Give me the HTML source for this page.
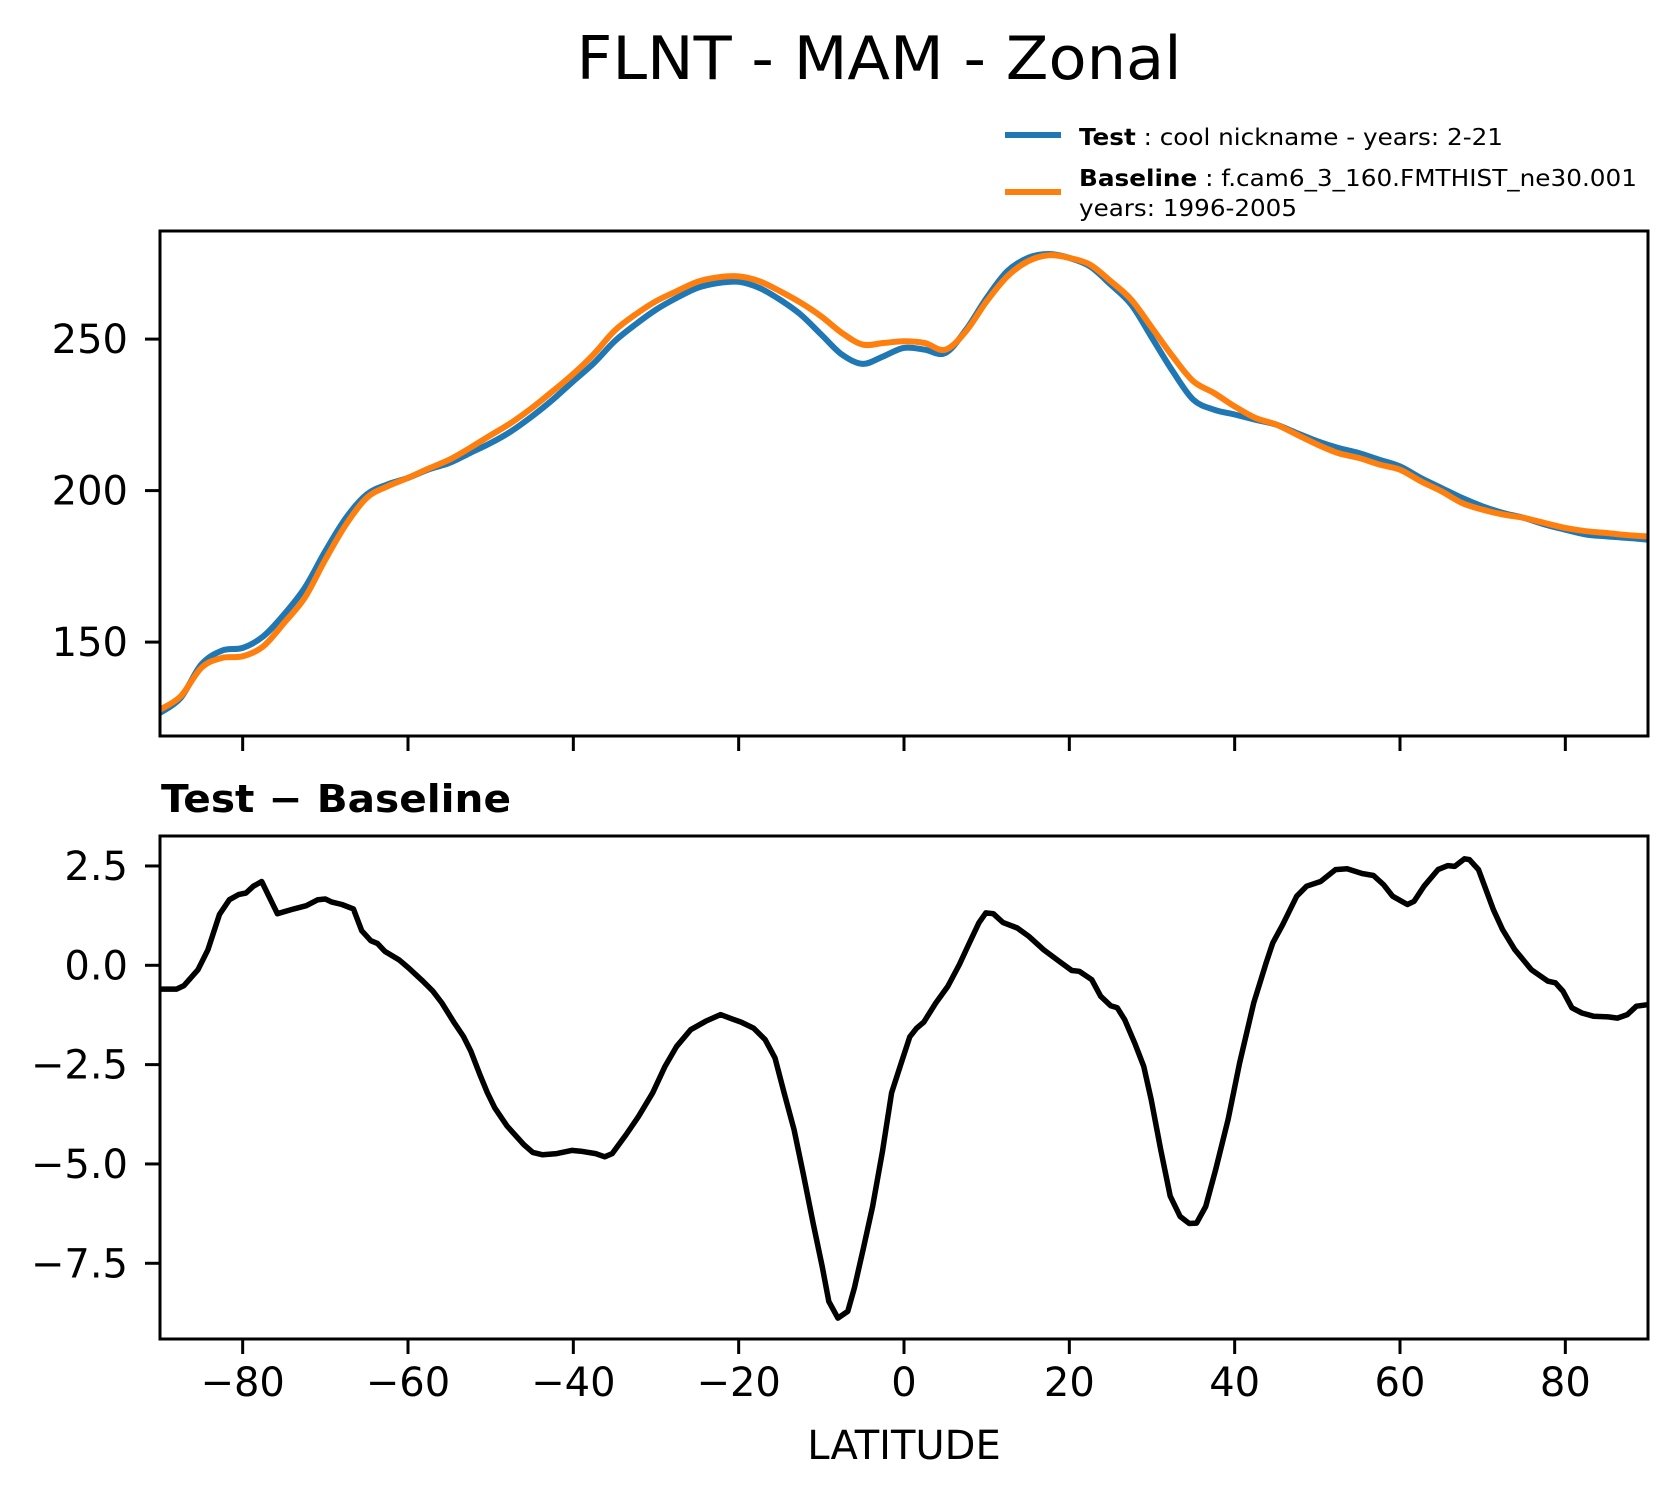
<!DOCTYPE html>
<html><head><meta charset="utf-8"><style>
html,body{margin:0;padding:0;background:#fff;}
svg{display:block;font-family:"DejaVu Sans","Liberation Sans",sans-serif;}
</style></head>
<body>
<svg id="chart" width="1678" height="1496" viewBox="0 0 1678 1496" xmlns="http://www.w3.org/2000/svg">
<rect width="1678" height="1496" fill="#fff"/>
<text x="879" y="79" font-size="60" text-anchor="middle" textLength="605" lengthAdjust="spacingAndGlyphs">FLNT - MAM - Zonal</text>
<g>
<line x1="1005" y1="135" x2="1061" y2="135" stroke="#1f77b4" stroke-width="6"/>
<text x="1079" y="145" font-size="23" textLength="424" lengthAdjust="spacingAndGlyphs"><tspan font-weight="bold">Test</tspan> : cool nickname - years: 2-21</text>
<line x1="1005" y1="192" x2="1061" y2="192" stroke="#ff7f0e" stroke-width="6"/>
<text x="1079" y="186" font-size="23" textLength="558" lengthAdjust="spacingAndGlyphs"><tspan font-weight="bold">Baseline</tspan> : f.cam6_3_160.FMTHIST_ne30.001</text>
<text x="1079" y="216" font-size="23" textLength="218" lengthAdjust="spacingAndGlyphs">years: 1996-2005</text>
</g>
<text x="161" y="812" font-size="38" font-weight="bold" textLength="350" lengthAdjust="spacingAndGlyphs">Test − Baseline</text>
<text x="904" y="1459" font-size="40" text-anchor="middle">LATITUDE</text>
<g id="top"></g>
<g id="bot"></g>
</svg>
<script>
const topLat = [-90,-87.5,-85,-82.5,-80,-77.5,-75,-72.5,-70,-67.5,-65,-62.5,-60,-57.5,-55,-52.5,-50,-47.5,-45,-42.5,-40,-37.5,-35,-32.5,-30,-27.5,-25,-22.5,-20,-17.5,-15,-12.5,-10,-7.5,-5,-2.5,0,2.5,5,7.5,10,12.5,15,17.5,20,22.5,25,27.5,30,32.5,35,37.5,40,42.5,45,47.5,50,52.5,55,57.5,60,62.5,65,67.5,70,72.5,75,77.5,80,82.5,85,87.5,90];
const testVals = [126.6,131.6,142.6,147.2,148.1,151.9,159.1,167.9,180,191,198.7,202,204.2,207,209.1,212.4,215.7,219.6,224.5,230,236.1,242.1,249.3,254.8,259.7,263.6,266.9,268.5,268.9,266.9,263,258.1,251.5,244.9,241.8,244.3,247.1,246.5,245.4,253.1,263.6,272.4,276.8,278.1,276.8,274,268,261.4,250.4,239.4,230,226.7,225.1,223.4,221.8,219,216.3,214.1,212.4,210.2,208,204.2,200.9,197.6,194.8,192.6,191,188.8,187.1,185.5,184.9,184.4,183.8];
const baseVals = [127.7,132.1,141.5,144.8,145.3,148.6,156.3,164.6,177.2,188.8,197.6,201.4,204.2,207.3,210.2,214.1,218.3,222.4,227.3,232.8,238.5,245.1,252.8,258.1,262.5,265.8,268.9,270.4,270.7,269.1,265.8,262,257.5,252,248.2,248.7,249.3,248.7,246.5,252.6,262.5,270.7,275.7,277.7,276.8,274.6,269.1,263,253.7,244.3,236.1,232.2,227.8,224,221.8,218.5,215.2,212.4,210.8,208.6,206.9,203.1,199.8,195.9,193.7,192.1,191,189.3,187.7,186.6,186,185.3,184.9];
const diffLat = [-90,-88,-87.1,-85.4,-84.2,-82.8,-81.6,-80.5,-79.6,-78.7,-77.7,-75.8,-73.8,-72.3,-70.9,-70,-69.2,-68,-66.6,-65.6,-64.5,-63.7,-62.8,-61.1,-59.9,-58.2,-57,-55.9,-54.4,-53.3,-52.4,-51.3,-50.4,-49.5,-48,-46,-44.9,-43.7,-42,-40.2,-39.1,-37.3,-36.2,-35.3,-33.6,-32.1,-30.4,-28.9,-27.5,-25.8,-24,-22.2,-20.8,-19.7,-18.2,-16.8,-15.6,-14.5,-13.3,-12.2,-11,-9.9,-9.1,-8,-6.8,-6,-4.9,-3.8,-2.6,-1.5,-0.4,0.7,1.54,2.4,3.85,5.3,6.7,7.9,9.06,9.9,10.8,11.95,13.7,15.1,16.9,18.9,20.3,21.2,22.7,23.8,25,25.8,26.7,27.9,29,29.9,31.05,32.2,33.4,34.5,35.4,36.5,37.7,39.2,40.6,42.3,43.8,44.6,45.8,47.5,48.7,50.4,52.2,53.6,55.4,56.8,58,59.1,60.9,61.7,62.9,64.6,65.8,66.6,67.8,68.4,69.5,71.3,72.4,73.9,75.9,77.9,78.8,79.7,80.8,82,83.4,85.2,86.3,87.5,88.6,90];
const diffVals = [-0.6,-0.6,-0.51,-0.11,0.39,1.28,1.65,1.78,1.82,1.99,2.11,1.3,1.42,1.5,1.65,1.67,1.59,1.53,1.42,0.87,0.62,0.55,0.35,0.14,-0.07,-0.4,-0.65,-0.95,-1.45,-1.79,-2.16,-2.75,-3.21,-3.59,-4.05,-4.51,-4.71,-4.77,-4.74,-4.66,-4.68,-4.74,-4.82,-4.74,-4.26,-3.8,-3.21,-2.54,-2.04,-1.62,-1.41,-1.24,-1.35,-1.43,-1.58,-1.87,-2.33,-3.21,-4.14,-5.23,-6.49,-7.58,-8.46,-8.88,-8.71,-8.12,-7.11,-6.07,-4.68,-3.21,-2.5,-1.8,-1.58,-1.43,-0.95,-0.53,0.02,0.56,1.07,1.32,1.3,1.08,0.94,0.73,0.39,0.08,-0.13,-0.15,-0.36,-0.78,-1.02,-1.07,-1.37,-1.95,-2.54,-3.38,-4.64,-5.81,-6.32,-6.5,-6.49,-6.07,-5.14,-3.88,-2.46,-0.95,0.06,0.56,1.02,1.74,1.99,2.11,2.41,2.43,2.31,2.26,2.03,1.74,1.53,1.61,1.99,2.41,2.51,2.49,2.68,2.66,2.41,1.4,0.9,0.39,-0.11,-0.4,-0.44,-0.65,-1.07,-1.2,-1.28,-1.3,-1.33,-1.24,-1.03,-0.99];
const xTicks = [-80,-60,-40,-20,0,20,40,60,80];
const xTickLabels = ["−80","−60","−40","−20","0","20","40","60","80"];
const topYTicks = [150,200,250];
const topYTickLabels = ["150","200","250"];
const botYTicks = [2.5,0,-2.5,-5,-7.5];
const botYTickLabels = ["2.5","0.0","−2.5","−5.0","−7.5"];

const NS = "http://www.w3.org/2000/svg";
const L = 160, R = 1648;
const xs = v => L + (v + 90) / 180 * (R - L);
const topY = v => 339.1 + (250 - v) * 3.03;
const botY = v => 965.3 - v * 39.73;

function mk(tag, attrs, parent) {
  const e = document.createElementNS(NS, tag);
  for (const k in attrs) e.setAttribute(k, attrs[k]);
  parent.appendChild(e);
  return e;
}
function panel(g, y0, y1, yTicks, yLabels, yf, showXLabels, prefix) {
  const clipId = prefix + "-clip";
  const defs = mk("defs", {}, g);
  const cp = mk("clipPath", {id: clipId}, defs);
  mk("rect", {x: L, y: y0, width: R - L, height: y1 - y0}, cp);
  const lines = mk("g", {"clip-path": "url(#" + clipId + ")"}, g);
  
  
  xTicks.forEach((t, i) => {
    const tk = mk("line", {x1: xs(t), x2: xs(t), y1: y1, y2: y1 + 15, stroke: "#000", "stroke-width": 3}, g);
    
    
    if (showXLabels) {
      const tx = mk("text", {x: xs(t), y: y1 + 57, "font-size": 40, "text-anchor": "middle"}, g);
      tx.textContent = xTickLabels[i];
      
      
    }
  });
  yTicks.forEach((t, i) => {
    const tk = mk("line", {x1: L - 15, x2: L, y1: yf(t), y2: yf(t), stroke: "#000", "stroke-width": 3}, g);
    
    
    const tx = mk("text", {x: 128, y: yf(t) + 14, "font-size": 40, "text-anchor": "end"}, g);
    tx.textContent = yLabels[i];
    
    
  });
  return lines;
}
function path(parent, lat, vals, yf, color, w, name, smooth) {
  const P = lat.map((v, i) => [xs(v), yf(vals[i])]);
  let d = "M" + P[0][0].toFixed(1) + "," + P[0][1].toFixed(1);
  for (let i = 0; i < P.length - 1; i++) {
    if (!smooth) { d += "L" + P[i+1][0].toFixed(1) + "," + P[i+1][1].toFixed(1); continue; }
    const p0 = P[Math.max(0, i-1)], p1 = P[i], p2 = P[i+1], p3 = P[Math.min(P.length-1, i+2)];
    const c1x = p1[0] + (p2[0]-p0[0])/6, c1y = p1[1] + (p2[1]-p0[1])/6;
    const c2x = p2[0] - (p3[0]-p1[0])/6, c2y = p2[1] - (p3[1]-p1[1])/6;
    d += "C" + c1x.toFixed(1) + "," + c1y.toFixed(1) + " " + c2x.toFixed(1) + "," + c2y.toFixed(1) + " " + p2[0].toFixed(1) + "," + p2[1].toFixed(1);
  }
  const p = mk("path", {d: d, fill: "none", stroke: color, "stroke-width": w, "stroke-linejoin": "round", "stroke-linecap": "square"}, parent);
  
  
}
const gTop = document.getElementById("top");


const gBot = document.getElementById("bot");



const pt = panel(gTop, 231, 736, topYTicks, topYTickLabels, topY, false, "top");
path(pt, topLat, testVals, topY, "#1f77b4", 6, "test-line", true);
path(pt, topLat, baseVals, topY, "#ff7f0e", 6, "baseline-line", true);
const f1 = mk("rect", {x: L, y: 231, width: R - L, height: 505, fill: "none", stroke: "#000", "stroke-width": 3}, gTop);



const pb = panel(gBot, 836, 1339, botYTicks, botYTickLabels, botY, true, "diff");
path(pb, diffLat, diffVals, botY, "#000", 5.5, "diff-line", false);
const f2 = mk("rect", {x: L, y: 836, width: R - L, height: 503, fill: "none", stroke: "#000", "stroke-width": 3}, gBot);


</script>
</body></html>
